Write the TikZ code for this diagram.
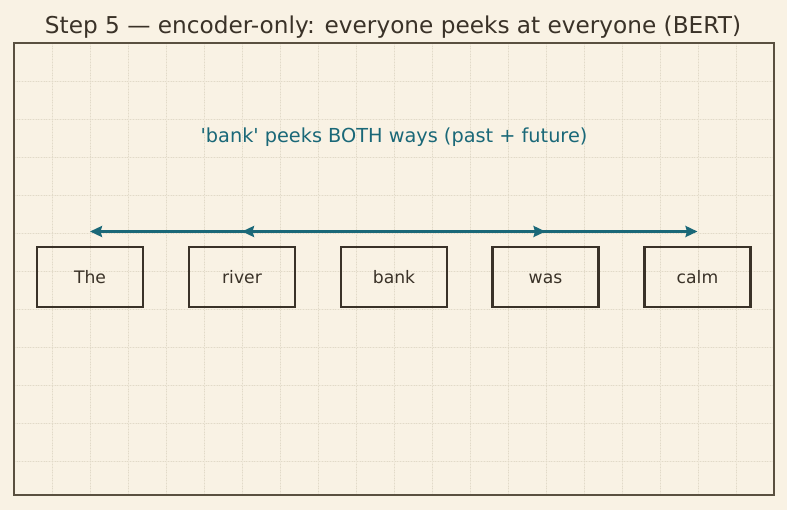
\documentclass[tikz,border=0pt]{standalone}
\usepackage{fontspec}
\setmainfont{DejaVu Sans}[Ligatures=TeXOff]
\usetikzlibrary{arrows.meta}
\definecolor{bgc}{RGB}{249,242,228}
\definecolor{gridc}{RGB}{240,233,218}
\definecolor{gridd}{RGB}{226,218,200}
\definecolor{framec}{RGB}{90,80,64}
\definecolor{ink}{RGB}{58,50,40}
\definecolor{teal}{RGB}{26,104,120}
\tikzset{
  tok/.style={draw=ink, line width=2.4pt, minimum width=106pt, minimum height=60pt, inner sep=0pt, text=ink, text height=16pt, text depth=3.4pt, font=\fontsize{17.2}{19}\selectfont},
  peek/.style={draw=teal, line width=2.6pt, -{Stealth[length=12pt,width=11pt,inset=1.5pt]}},
}
\begin{document}
\begin{tikzpicture}[x=1pt,y=-1pt]
\fill[bgc] (0,0) rectangle (787,510);
\useasboundingbox (0,0) rectangle (787,510);
\foreach \i in {1,...,19} {\draw[gridc, line width=0.7pt] (14+38*\i,43) -- (14+38*\i,495);
  \draw[gridd, line width=0.7pt, dotted] (14+38*\i,43) -- (14+38*\i,495);}
\foreach \j in {1,...,11} {\draw[gridc, line width=0.7pt] (14,43+38*\j) -- (774,43+38*\j);
  \draw[gridd, line width=0.7pt, dotted] (14,43+38*\j) -- (774,43+38*\j);}
\draw[framec, line width=1.5pt] (14,43) rectangle (774,495);
\node[text=ink, font=\fontsize{23.2}{26}\selectfont] (title) at (393,27) {Step 5 — encoder-only: everyone peeks at everyone (BERT)};
\node[text=teal, font=\fontsize{19.3}{22}\selectfont] (lbl) at (394,137) {'bank' peeks BOTH ways (past + future)};
\node[tok] (t1) at (90,277) {The};
\node[tok] (t2) at (242,277) {river};
\node[tok] (t3) at (394,277) {bank};
\node[tok] (t4) at (545.5,277) {was};
\node[tok] (t5) at (697.5,277) {calm};
\coordinate (src) at (394,231.5);
\draw[peek] (src) -- (t1.north |- src);
\draw[peek] (src) -- (t2.north |- src);
\draw[peek] (src) -- (t4.north |- src);
\draw[peek] (src) -- (t5.north |- src);
\end{tikzpicture}
\end{document}
